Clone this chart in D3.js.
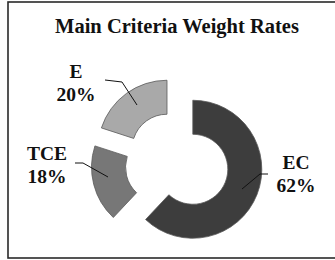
<!DOCTYPE html>
<html>
<head>
<meta charset="utf-8">
<script src="https://cdn.jsdelivr.net/npm/d3@7"></script>
<style>
  body { margin: 0; background: #fff; }
  text { font-family: "Liberation Serif", "Times New Roman", serif; font-weight: bold; fill: #111; }
</style>
</head>
<body>
<div id="chart"></div>
<script>
var w = 335;
var h = 260;

// data
var categories = ["EC", "TCE", "E"];
var rates = [62, 18, 20];
var colors = ["#3d3d3d", "#777777", "#a9a9a9"];
var title = "Main Criteria Weight Rates";

var cx = 177, cy = 163;
var outerR = 69, innerR = 35, explode = 17;

var svg = d3.select("#chart")
            .append("svg")
            .attr("width", w)
            .attr("height", h);

// frame
svg.append("rect")
   .attr("x", 8)
   .attr("y", 2)
   .attr("width", 340)
   .attr("height", 256)
   .style("fill", "none")
   .style("stroke", "#2a2a2a")
   .style("stroke-width", 1.6);

svg.append("text")
   .attr("x", 177)
   .attr("y", 33)
   .attr("text-anchor", "middle")
   .style("font-size", "20.5px")
   .text(title);

var pie = d3.pie().sort(null).value(function(d){ return d; });
var arc = d3.arc().innerRadius(innerR).outerRadius(outerR);
var arcs = pie(rates);

var g = svg.append("g").attr("transform", "translate(" + cx + "," + cy + ")");

function offset(d){
  var a = (d.startAngle + d.endAngle) / 2;
  return [Math.sin(a) * explode, -Math.cos(a) * explode];
}

g.selectAll("path")
 .data(arcs)
 .enter()
 .append("path")
 .attr("d", arc)
 .attr("transform", function(d){
   var o = offset(d);
   return "translate(" + o[0] + "," + o[1] + ")";
 })
 .style("fill", function(d,i){ return colors[i]; })
 .style("stroke", "#5a5a5a")
 .style("stroke-width", 0.8);

// label placement, leader lines: [inner end, elbow, outer end], label centre and first baseline
var labels = [
  { pts: [[242, 189], [260, 174], [268, 174]], x: 296, y: 169 },
  { pts: [[108, 177], [83, 163], [75, 163]], x: 47, y: 160 },
  { pts: [[137, 105], [122, 82], [105, 80]], x: 76, y: 78 }
];

var line = d3.line();

svg.selectAll("path.leader")
   .data(labels)
   .enter()
   .append("path")
   .attr("class", "leader")
   .attr("d", function(d){ return line(d.pts); })
   .style("fill", "none")
   .style("stroke", "#111")
   .style("stroke-width", 1);

var texts = svg.selectAll("text.lbl")
               .data(labels)
               .enter()
               .append("text")
               .attr("class", "lbl")
               .attr("text-anchor", "middle")
               .style("font-size", "19.5px");

texts.append("tspan")
     .attr("x", function(d){ return d.x; })
     .attr("y", function(d){ return d.y; })
     .text(function(d,i){ return categories[i]; });

texts.append("tspan")
     .attr("x", function(d){ return d.x; })
     .attr("y", function(d){ return d.y + 23; })
     .text(function(d,i){ return rates[i] + "%"; });
</script>
</body>
</html>
